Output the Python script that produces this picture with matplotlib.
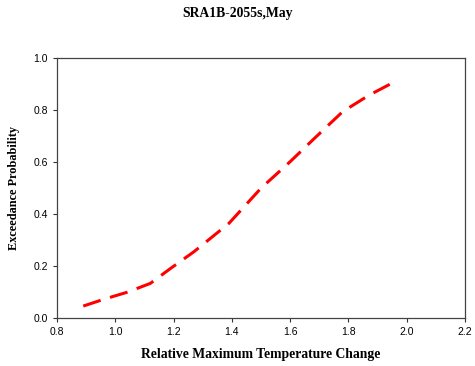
import matplotlib
matplotlib.use("Agg")
import matplotlib.pyplot as plt

x_vals = [0.89, 0.96, 1.04, 1.12, 1.19, 1.27, 1.39, 1.50, 1.60, 1.68, 1.78, 1.87, 1.955]
y_vals = [0.046, 0.072, 0.099, 0.133, 0.191, 0.255, 0.364, 0.499, 0.601, 0.687, 0.793, 0.856, 0.906]

fig = plt.figure(figsize=(4.75, 3.66), dpi=100)
ax = fig.add_axes([0.12, 0.131, 0.859, 0.711])
ax.plot(x_vals, y_vals, color="red", lw=2.2, dashes=(6, 3.2))
ax.set_xlim(0.8, 2.2)
ax.set_ylim(0.0, 1.0)
ax.set_xticks([0.8, 1.0, 1.2, 1.4, 1.6, 1.8, 2.0, 2.2])
ax.set_yticks([0.0, 0.2, 0.4, 0.6, 0.8, 1.0])
ax.set_xticklabels(["0.8", "1.0", "1.2", "1.4", "1.6", "1.8", "2.0", "2.2"])
ax.set_yticklabels(["0.0", "0.2", "0.4", "0.6", "0.8", "1.0"])
ax.tick_params(direction="out", length=3, width=0.8, labelsize=7.5, color="#333333")
for lab in ax.get_xticklabels() + ax.get_yticklabels():
    lab.set_family("Liberation Sans")
for s in ax.spines.values():
    s.set_color("#444444")
    s.set_linewidth(0.9)
ax.set_xlabel("Relative Maximum Temperature Change", family="Liberation Serif",
              fontweight="bold", fontsize=9.8, labelpad=8)
ax.set_ylabel("Exceedance Probability", family="Liberation Serif",
              fontweight="bold", fontsize=8.8, labelpad=10)
fig.text(0.5, 0.962, "SRA1B-2055s,May", family="Liberation Serif",
         fontweight="bold", fontsize=9.8, ha="center", va="center")
fig.savefig("out.png", dpi=100)
